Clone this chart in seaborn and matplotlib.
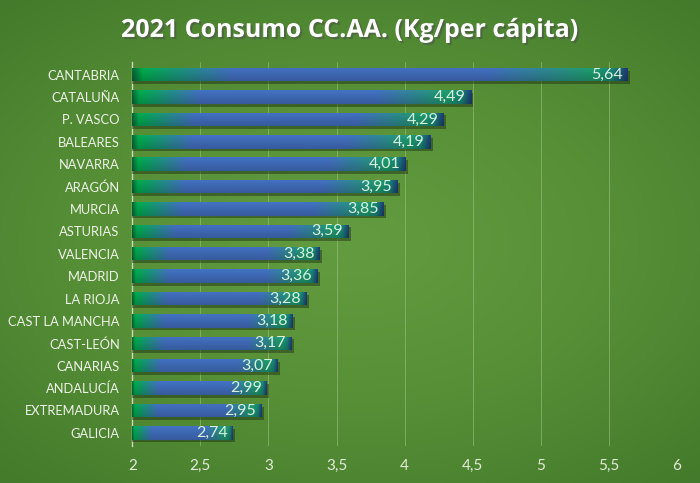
import numpy as np
import matplotlib
matplotlib.use("Agg")
import matplotlib.pyplot as plt
import matplotlib.patheffects as pe
from matplotlib.colors import LinearSegmentedColormap
import seaborn as sns

# datos
regiones = ["CANTABRIA", "CATALUÑA", "P. VASCO", "BALEARES", "NAVARRA", "ARAGÓN",
            "MURCIA", "ASTURIAS", "VALENCIA", "MADRID", "LA RIOJA", "CAST LA MANCHA",
            "CAST-LEÓN", "CANARIAS", "ANDALUCÍA", "EXTREMADURA", "GALICIA"]
consumo = [5.64, 4.49, 4.29, 4.19, 4.01, 3.95, 3.85, 3.59, 3.38, 3.36, 3.28,
           3.18, 3.17, 3.07, 2.99, 2.95, 2.74]
ticks_x = [2, 2.5, 3, 3.5, 4, 4.5, 5, 5.5, 6]

sns.set_theme(style="white")
plt.rcParams["font.family"] = ["Lato", "DejaVu Sans"]

fig = plt.figure(figsize=(7, 4.83), dpi=100)

# fondo verde con degradado radial
bg = fig.add_axes([0, 0, 1, 1], zorder=-10)
yy, xx = np.mgrid[-1:1:300j, -1:1:400j]
r = np.sqrt((xx * 0.9) ** 2 + (yy * 1.0) ** 2)
fondo = LinearSegmentedColormap.from_list("fondo", ["#639c40", "#578f37", "#437a2b"])
bg.imshow(r, cmap=fondo, aspect="auto", extent=[0, 1, 0, 1], vmin=0, vmax=1.35)
bg.axis("off")

ax = fig.add_axes([0.189, 0.076, 0.778, 0.795])
ax.patch.set_alpha(0)

sns.barplot(x=consumo, y=regiones, orient="h", color="#4472c4", width=0.6,
            linewidth=0, edgecolor="none", ax=ax, zorder=3)

xmin, xmax = ticks_x[0], ticks_x[-1]
ax.set_xlim(xmin, xmax)

grad = LinearSegmentedColormap.from_list(
    "barra",
    [(0.0, "#0a6a3a"), (0.02, "#00b050"), (0.2, "#4472c4"), (0.72, "#4472c4"),
     (0.93, "#1fa070"), (0.97, "#1a8a7a"), (1.0, "#1d3f78")])
vert = np.linspace(1.0, 0.8, 20)[:, None]

for p, v in zip(ax.patches, consumo):
    p.set_path_effects([pe.SimplePatchShadow(offset=(1.5, -2), alpha=0.45,
                                             shadow_rgbFace="#1a2a12"),
                        pe.Normal()])
    y0 = p.get_y()
    h = p.get_height()
    g = np.linspace(0, 1, 256)[None, :]
    rgb = grad(g)[..., :3] * vert[..., None]
    im = ax.imshow(rgb, extent=[xmin, v, y0 + h, y0], aspect="auto",
                   zorder=4, interpolation="bilinear")
    im.set_clip_path(p)
    ax.text(v - 0.04, y0 + h / 2, f"{v:.2f}".replace(".", ","), ha="right",
            va="center", color="#d6f2dc", fontsize=11.5, zorder=5)

ax.set_ylim(len(regiones) - 0.5 + 0.1, -0.5 - 0.05)
ax.set_aspect("auto")
ax.set_xticks(ticks_x)
ax.set_xticklabels([str(t).replace(".", ",") for t in ticks_x],
                   color="#e2ecd8", fontsize=11)
ax.tick_params(axis="y", colors="#eef3e8", labelsize=9.3, length=0, pad=9)
ax.tick_params(axis="x", length=0, pad=9)
ax.set_xlabel("")
ax.set_ylabel("")
ax.grid(axis="x", color="#9cbf80", linewidth=0.7, alpha=0.6, zorder=0)
for s in ["top", "right", "bottom"]:
    ax.spines[s].set_visible(False)
ax.spines["left"].set_color("#c9dcb8")
ax.spines["left"].set_linewidth(1.0)

fig.text(0.5, 0.937, "2021 Consumo CC.AA. (Kg/per cápita)", ha="center",
         va="center", color="white", fontsize=18, fontweight="bold",
         family=["Open Sans", "DejaVu Sans"],
         path_effects=[pe.withSimplePatchShadow(offset=(1.5, -1.5), alpha=0.5)])

fig.savefig("out.png", dpi=100)
